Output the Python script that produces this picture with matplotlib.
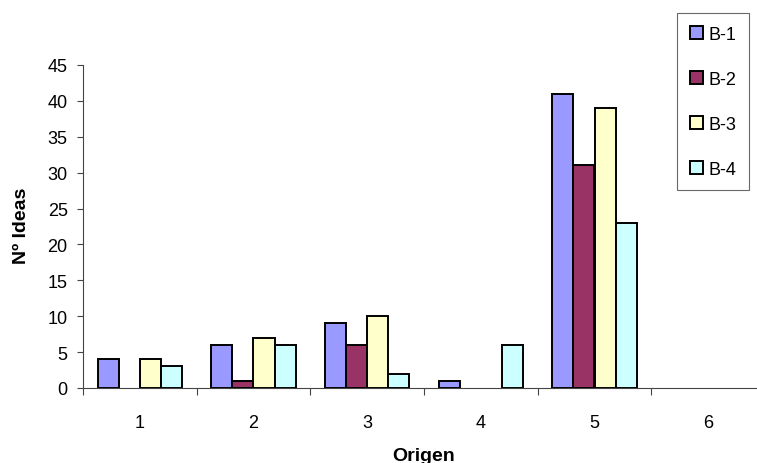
import matplotlib
matplotlib.use('Agg')
import matplotlib.pyplot as plt
import numpy as np

plt.rcParams['font.family'] = ['Liberation Sans', 'DejaVu Sans']

categorias = ['1', '2', '3', '4', '5', '6']
series = ['B-1', 'B-2', 'B-3', 'B-4']
b1 = [4, 6, 9, 1, 41, 0]
b2 = [0, 1, 6, 0, 31, 0]
b3 = [4, 7, 10, 0, 39, 0]
b4 = [3, 6, 2, 6, 23, 0]
colores = ['#9999FF', '#993366', '#FFFFCC', '#CCFFFF']

fig = plt.figure(figsize=(7.57, 4.64), dpi=100)
ax = fig.add_axes([83 / 757, 1 - 389 / 464, 682 / 757, 323 / 464])

x = np.arange(len(categorias))
ancho = 0.185
for i, (nombre, vals) in enumerate(zip(series, [b1, b2, b3, b4])):
    pos = x + (i - 1.5) * ancho
    # las barras con valor 0 no se dibujan
    v = np.array(vals, dtype=float)
    m = v > 0
    ax.bar(pos[m], v[m], width=ancho, color=colores[i], edgecolor='black',
           linewidth=1.4, label=nombre)

ax.set_xlim(-0.5, len(categorias) - 0.5)
ax.set_ylim(0, 45)
ax.set_yticks(range(0, 46, 5))
ax.set_xticks(x)
ax.set_xticklabels(categorias)
ax.set_xticks(np.arange(-0.5, len(categorias), 1), minor=True)
ax.tick_params(axis='x', which='major', length=0, pad=19, labelsize=13)
ax.tick_params(axis='x', which='minor', length=5, width=0.8, color='#444444')
ax.tick_params(axis='y', length=4, width=0.8, color='#444444', labelsize=13, pad=7)

for lado in ['top', 'right']:
    ax.spines[lado].set_visible(False)
ax.spines['left'].set_color('#444444')
ax.spines['bottom'].set_color('#444444')
ax.spines['left'].set_linewidth(0.8)
ax.spines['bottom'].set_linewidth(0.8)

fig.text(22 / 757, 1 - 226 / 464, 'Nº Ideas', rotation=90, fontsize=14,
         fontweight='bold', ha='center', va='center')
fig.text(424 / 757, 1 - 457 / 464, 'Origen', fontsize=14, fontweight='bold',
         ha='center', va='center')

leg = ax.legend(loc='upper left', bbox_to_anchor=(677 / 757, 1 - 14 / 464),
                bbox_transform=fig.transFigure, frameon=True, fancybox=False,
                fontsize=13, handlelength=0.75, handleheight=0.75,
                handletextpad=0.3, labelspacing=1.55, borderpad=0.7,
                borderaxespad=0)
leg.get_frame().set_edgecolor('#444444')
leg.get_frame().set_linewidth(0.8)

fig.savefig('out.png', dpi=100)
